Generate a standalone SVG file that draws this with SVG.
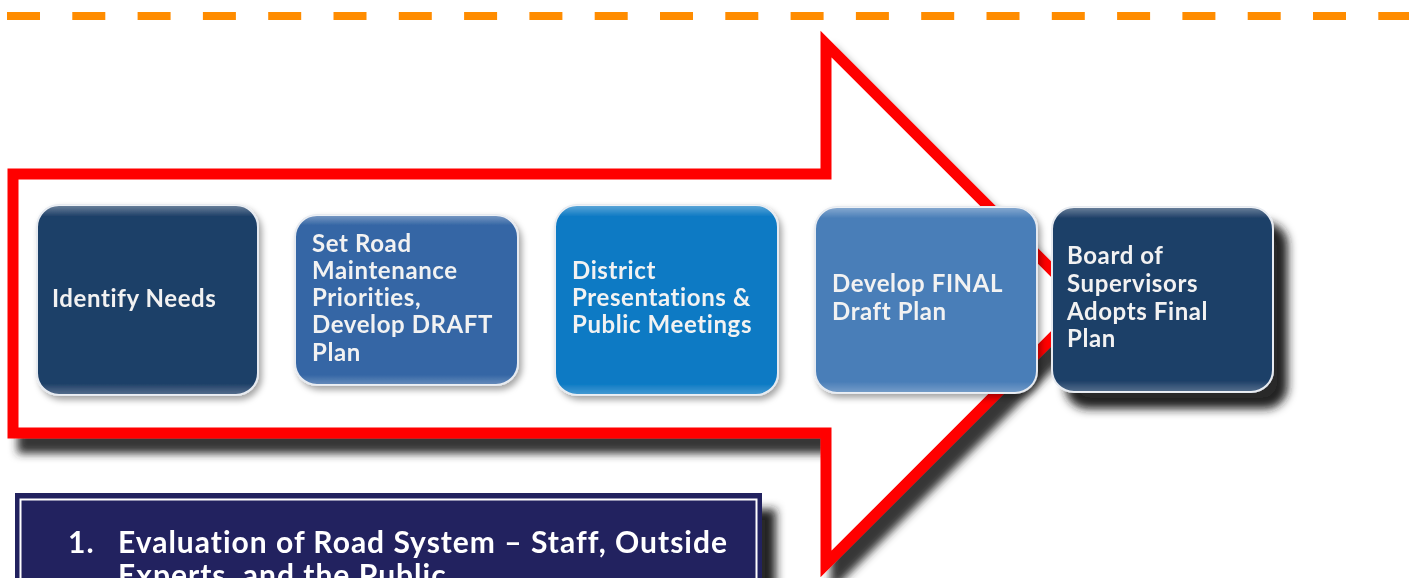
<svg xmlns="http://www.w3.org/2000/svg" width="1409" height="578" viewBox="0 0 1409 578">
  <defs>
    <filter id="arrowShadow" x="-10%" y="-10%" width="130%" height="130%">
      <feGaussianBlur in="SourceAlpha" stdDeviation="4.5"/>
      <feOffset dx="10" dy="15" result="b"/>
      <feFlood flood-color="#2b2b2b" flood-opacity="0.95"/>
      <feComposite in2="b" operator="in" result="s"/>
      <feMerge><feMergeNode in="s"/><feMergeNode in="SourceGraphic"/></feMerge>
    </filter>
    <filter id="boxShadow" x="-10%" y="-10%" width="130%" height="130%">
      <feGaussianBlur in="SourceAlpha" stdDeviation="3"/>
      <feOffset dx="3" dy="4" result="b"/>
      <feFlood flood-color="#000" flood-opacity="0.35"/>
      <feComposite in2="b" operator="in" result="s"/>
      <feMerge><feMergeNode in="s"/><feMergeNode in="SourceGraphic"/></feMerge>
    </filter>
    <filter id="bigShadow" x="-10%" y="-10%" width="140%" height="140%">
      <feGaussianBlur in="SourceAlpha" stdDeviation="5"/>
      <feOffset dx="14" dy="16" result="b"/>
      <feFlood flood-color="#1a1a1a" flood-opacity="0.95"/>
      <feComposite in2="b" operator="in" result="s"/>
      <feMerge><feMergeNode in="s"/><feMergeNode in="SourceGraphic"/></feMerge>
    </filter>
    <linearGradient id="gloss" x1="0" y1="0" x2="0" y2="1">
      <stop offset="0" stop-color="#ffffff" stop-opacity="0.35"/>
      <stop offset="0.06" stop-color="#ffffff" stop-opacity="0"/>
      <stop offset="0.94" stop-color="#ffffff" stop-opacity="0"/>
      <stop offset="1" stop-color="#ffffff" stop-opacity="0.25"/>
    </linearGradient>
  </defs>
  <style>
    .step { font-family: Lato, "Open Sans", "Liberation Sans", sans-serif; font-weight: 700; font-size: 24px; letter-spacing: 0.6px; fill: #f2f2f2; }
    .box { stroke: #e6eaf0; stroke-width: 2; }
    .gl { fill: url(#gloss); stroke: none; }
    .list { font-family: Lato, "Open Sans", "Liberation Sans", sans-serif; font-weight: 700; font-size: 30px; letter-spacing: 1px; fill: #ffffff; }
  </style>
  <rect width="1409" height="578" fill="#ffffff"/>

  <g id="dashed-line">
    <line x1="7" y1="16" x2="1409" y2="16" stroke="#FF8C00" stroke-width="8" stroke-dasharray="33 32.3"/>
  </g>

  <g id="arrow" filter="url(#arrowShadow)">
    <path d="M13,174 H826 V44 L1086,304 L826,564 V433 H13 Z" fill="#ffffff" stroke="#ff0000" stroke-width="11" stroke-linejoin="miter"/>
  </g>

  <g id="step1" filter="url(#boxShadow)">
    <rect class="box" x="37" y="205" width="221" height="190" rx="22" fill="#1F4068"/>
    <rect class="gl" x="37" y="205" width="221" height="190" rx="22"/>
    <text class="step" x="52" y="307">Identify Needs</text>
  </g>

  <g id="step2" filter="url(#boxShadow)">
    <rect class="box" x="295" y="215" width="223" height="170" rx="22" fill="#3566A5"/>
    <rect class="gl" x="295" y="215" width="223" height="170" rx="22"/>
    <text class="step" x="312" y="252">Set Road</text>
    <text class="step" x="312" y="279">Maintenance</text>
    <text class="step" x="312" y="306">Priorities,</text>
    <text class="step" x="312" y="333">Develop DRAFT</text>
    <text class="step" x="312" y="361">Plan</text>
  </g>

  <g id="step3" filter="url(#boxShadow)">
    <rect class="box" x="555" y="205" width="223" height="190" rx="22" fill="#0C7AC4"/>
    <rect class="gl" x="555" y="205" width="223" height="190" rx="22"/>
    <text class="step" x="572" y="279">District</text>
    <text class="step" x="572" y="306">Presentations &amp;</text>
    <text class="step" x="572" y="333">Public Meetings</text>
  </g>

  <g id="step4" filter="url(#boxShadow)">
    <rect class="box" x="815" y="207" width="222" height="186" rx="22" fill="#4A7EB8"/>
    <rect class="gl" x="815" y="207" width="222" height="186" rx="22"/>
    <text class="step" x="832" y="292">Develop FINAL</text>
    <text class="step" x="832" y="320">Draft Plan</text>
  </g>

  <g id="step5" filter="url(#bigShadow)">
    <rect class="box" x="1052" y="207" width="221" height="185" rx="22" fill="#1F4068"/>
    <rect class="gl" x="1052" y="207" width="221" height="185" rx="22"/>
    <text class="step" x="1067" y="264">Board of</text>
    <text class="step" x="1067" y="292">Supervisors</text>
    <text class="step" x="1067" y="320">Adopts Final</text>
    <text class="step" x="1067" y="347">Plan</text>
  </g>

  <g id="list-box" filter="url(#bigShadow)">
    <rect x="15" y="493" width="747" height="130" fill="#22205F"/>
    <rect x="20.5" y="499.5" width="736" height="130" fill="none" stroke="#ffffff" stroke-width="2"/>
    <text class="list" x="68" y="553">1.</text>
    <text class="list" x="118" y="553">Evaluation of Road System – Staff, Outside</text>
    <text class="list" x="118" y="586">Experts, and the Public</text>
  </g>
</svg>
